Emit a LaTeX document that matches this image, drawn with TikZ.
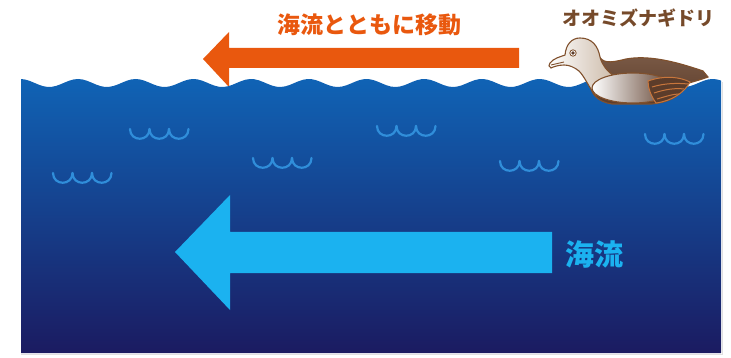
\documentclass[tikz,border=0pt]{standalone}
\usepackage{fontspec}
\newfontfamily\jp{Noto Sans CJK JP}
\definecolor{seatop}{RGB}{16,99,181}
\definecolor{seamid}{RGB}{19,64,142}
\definecolor{seabot}{RGB}{27,27,97}
\definecolor{driftorange}{RGB}{233,88,14}
\definecolor{currentblue}{RGB}{27,178,240}
\definecolor{ripple}{RGB}{48,142,218}
\definecolor{birdline}{RGB}{128,80,44}
\definecolor{birdback}{RGB}{92,60,42}
\definecolor{birdlight}{RGB}{122,90,70}
\definecolor{birdname}{RGB}{118,74,42}
\definecolor{feather}{RGB}{200,118,60}

\begin{document}
\begin{tikzpicture}[x=1pt, y=-1pt]
      \def\wl{57.7};
      \def\rw{19.5};
      %
      \useasboundingbox (0,0) rectangle (731,358);
      %
      \fill[driftorange] (203,59) -- (229,32) -- (229,48) -- (519,48)
            -- (519,68) -- (229,68) -- (229,87) -- cycle;    % arrow above water
      \node[text=driftorange, font={\jp\bfseries\fontsize{23}{23}\selectfont}] (drift) at (369,25) {海流とともに移動};
      %%
      \draw[black!12, line width=1.5] (21,354.5) -- (722.5,354.5) -- (722.5,82);
      \shade[top color=seatop, middle color=seamid, bottom color=seabot]
            (21,353) -- plot[domain=21:721, samples=160] (\x, {83-4*cos(360/\wl*(\x-78))})
            -- (721,353) -- cycle;                              % sea
      %
      \foreach \x/\y in {130/129, 53/173, 253/158, 377/126, 500/161, 645/134}
        \foreach \k in {0,1,2}
          \draw[ripple, line width=2.2, line cap=round]
            (\x+\k*\rw,\y) .. controls (\x+\k*\rw,\y+13) and (\x+\k*\rw+\rw,\y+13) .. (\x+\k*\rw+\rw,\y);
      %
      \fill[currentblue] (175,252) -- (230,195) -- (230,232) -- (552,232)
            -- (552,273) -- (230,273) -- (230,310) -- cycle;  % current
      \node[text=currentblue, font={\jp\bfseries\fontsize{29}{29}\selectfont}] (current) at (594,254) {海流};
      %%
      \node[text=birdname, font={\jp\bfseries\fontsize{19}{19}\selectfont}] (bird) at (638,18) {オオミズナギドリ};
      % body
      \shadedraw[top color=birdlight, bottom color=birdback, draw=birdline, line width=1.1]
            (598,54) .. controls (602,64) and (610,63) .. (626,59)
            .. controls (648,55) and (674,61) .. (703,71) -- (708,77)
            .. controls (700,80) and (692,82) .. (686,84)
            .. controls (683,94) and (672,102) .. (652,104) -- (612,104)
            .. controls (598,102) and (590,94) .. (590,82) -- cycle;
      % head and neck
      \shadedraw[left color=white, right color=black!32!brown!40!white, draw=birdline, line width=1.1]
            (550,63) .. controls (554,58) and (560,57) .. (565,55)
            .. controls (566,44) and (572,38) .. (580,38)
            .. controls (592,38) and (598,46) .. (600,57)
            .. controls (602,65) and (607,71) .. (614,76) -- (596,96)
            .. controls (589,88) and (585,77) .. (579,71)
            .. controls (574,67) and (569,65) .. (564,65)
            .. controls (558,65) and (553,67) .. (551,68)
            .. controls (549,67) and (548,65) .. (550,63) -- cycle;
      \draw[birdline, line width=0.9] (551,65) -- (564,62);
      \filldraw[fill=white, draw=birdline, line width=0.8] (573,53) circle (3.2);
      \fill[birdback] (573,53) circle (1.9);
      % flank
      \shadedraw[left color=white, middle color=birdback!55!white, right color=birdback, draw=birdline, line width=1.1]
            (633,88) ellipse [x radius=41, y radius=15];
      % wing
      \filldraw[fill=birdback, draw=feather, line width=1]
            (648,81) .. controls (665,75) and (680,77) .. (690,82)
            .. controls (685,92) and (672,101) .. (656,103)
            .. controls (651,96) and (648,88) .. (648,81) -- cycle;
      \draw[feather, line width=1] (652,87) .. controls (665,83) and (678,83) .. (688,84);
      \draw[feather, line width=1] (654,93) .. controls (666,89) and (676,88) .. (684,89);
      \draw[feather, line width=1] (657,99) .. controls (667,96) and (674,94) .. (679,94);
      %
    \end{tikzpicture}
\end{document}
